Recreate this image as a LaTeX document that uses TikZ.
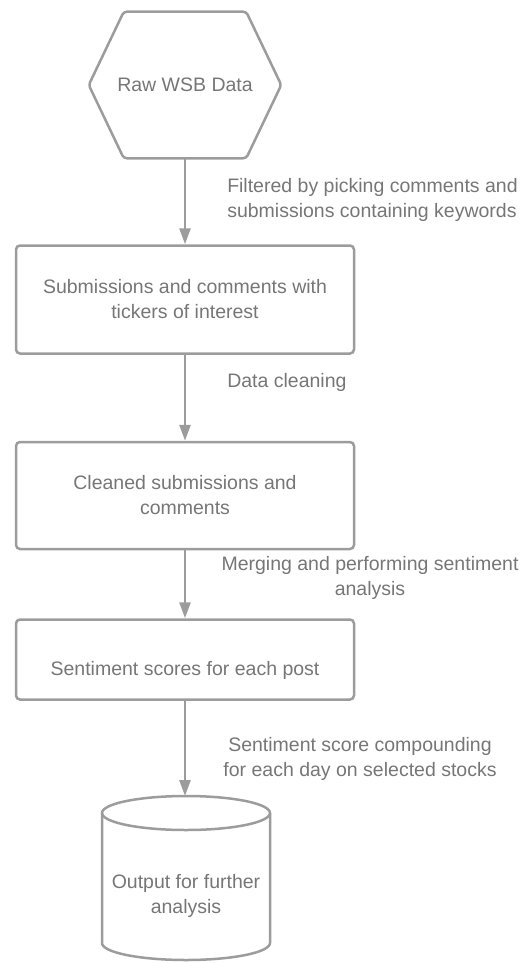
\documentclass[tikz,border=0pt]{standalone}
\usepackage{fontspec}
\setmainfont{Liberation Sans}
\usepackage{tikz}
\usetikzlibrary{arrows.meta,positioning}
\definecolor{linegray}{HTML}{9C9C9C}
\definecolor{textgray}{HTML}{767676}
\newcommand\diagfont{\fontsize{19.5}{25}\selectfont}

\begin{document}
\begin{tikzpicture}[x=1pt,y=1pt,->,>={Triangle[length=16pt,width=11pt]},node distance=86pt,
  line width=2.5pt,draw=linegray,font=\diagfont,text=textgray,
  box node/.style={draw=linegray,rounded corners=4pt,minimum width=338pt,align=center},
  edge label/.style={inner sep=0pt,align=center},
  shape line/.style={-,draw=linegray,rounded corners=3pt,line join=round}]
  \useasboundingbox (0,0) rectangle (523,-963);
  \node (raw) [minimum width=190pt,minimum height=144pt] at (185,-85) {Raw WSB Data};
  \draw[shape line] (raw.west) -- ([xshift=35pt]raw.north west) -- ([xshift=-35pt]raw.north east)
    -- (raw.east) -- ([xshift=-35pt]raw.south east) -- ([xshift=35pt]raw.south west) -- cycle;
  \node[box node,minimum height=108pt] (tickers) [below=86pt of raw] {Submissions and comments with\\tickers of interest};
  \node[box node,minimum height=107pt] (cleaned) [below=86pt of tickers] {Cleaned submissions and\\comments};
  \node[box node,minimum height=80pt,text height=36pt] (scores) [below=68pt of cleaned] {Sentiment scores for each post};
  % output cylinder
  \coordinate (cyltop) at (186,-796);
  \draw[shape line,rounded corners=0pt] (102,-813) -- (102,-943) arc[start angle=180,end angle=360,x radius=84,y radius=17] -- (270,-813);
  \draw[shape line,rounded corners=0pt] (186,-813) ellipse[x radius=84,y radius=17];
  \node (output) [align=center] at (186,-896) {Output for further\\analysis};
  % arrows
  \draw[->,linegray] (raw) -- (tickers);
  \draw[->,linegray] (tickers) -- (cleaned);
  \draw[->,linegray] (cleaned) -- (scores);
  \draw[->,linegray] (scores.south) -- (scores.south |- cyltop);
  % labels
  \node[edge label,anchor=west,align=left] (filtered) at (226,-199.5) {Filtered by picking comments and\\submissions containing keywords};
  \node[edge label,anchor=west] (cleaning) at (226,-382) {Data cleaning};
  \node[edge label] (merging) at (370,-578) {Merging and performing sentiment\\analysis};
  \node[edge label] (compounding) at (360,-758.5) {Sentiment score compounding\\for each day on selected stocks};
\end{tikzpicture}
\end{document}
